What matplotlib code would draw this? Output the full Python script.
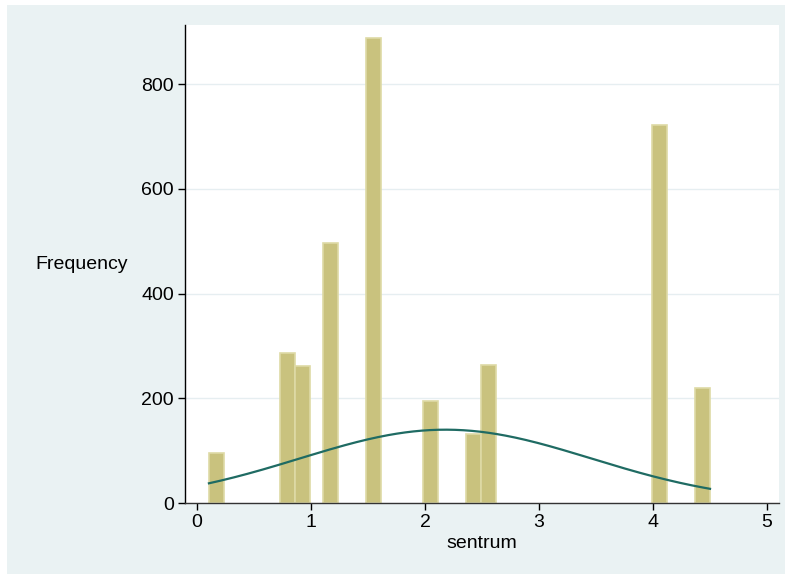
import numpy as np
import matplotlib
matplotlib.use("Agg")
import matplotlib.pyplot as plt
from matplotlib.patches import Rectangle


# histogram bins (centre of bin, count)
bin_centers = [0.172, 0.795, 0.926, 1.175, 1.55, 2.05, 2.425, 2.555, 4.06, 4.43]
counts = [95, 287, 261, 496, 888, 195, 132, 263, 722, 219]
bin_width = 0.132

# overlaid normal curve
curve_mean = 2.18
curve_sd = 1.28
curve_peak = 140
curve_from, curve_to = 0.105, 4.5

x_ticks = [0, 1, 2, 3, 4, 5]
y_ticks = [0, 200, 400, 600, 800]

plt.rcParams['font.family'] = ['Liberation Sans', 'DejaVu Sans']

W, H = 790, 579
fig = plt.figure(figsize=(W / 100, H / 100), dpi=100, facecolor="white")

# light outer region like Stata's graph region
fig.patches.append(Rectangle((7 / W, 5 / H), (785 - 7) / W, (574 - 5) / H,
                             transform=fig.transFigure, facecolor="#eaf2f3",
                             edgecolor="none", zorder=-10))

ax = fig.add_axes([185 / W, 1 - 503 / H, (779 - 185) / W, (503 - 25) / H])
ax.set_facecolor("white")

ax.bar(bin_centers, counts, width=bin_width, color="#c9c27e",
       edgecolor="#dedaa6", linewidth=1.2, zorder=2)

xs = np.linspace(curve_from, curve_to, 300)
ys = curve_peak * np.exp(-0.5 * ((xs - curve_mean) / curve_sd) ** 2)
ax.plot(xs, ys, color="#1f6b63", linewidth=1.6, zorder=3)

ax.set_xlim(-0.105, 5.105)
ax.set_ylim(0, 912.7)
ax.set_xticks(x_ticks)
ax.set_yticks(y_ticks)
ax.grid(axis="y", color="#e6eef1", linewidth=1.0, zorder=0)
ax.set_axisbelow(True)

for s in ["top", "right"]:
    ax.spines[s].set_visible(False)
ax.spines["left"].set_color("black")
ax.spines["bottom"].set_color("#333333")
ax.spines["left"].set_linewidth(1.0)
ax.spines["bottom"].set_linewidth(1.0)

ax.tick_params(axis="both", direction="out", length=5, width=1.0,
               labelsize=14, colors="black", pad=3)

ax.set_xlabel("sentrum", fontsize=14, labelpad=3)
fig.text(35 / W, 1 - 264 / H, "Frequency", fontsize=14,
         ha="left", va="center")

fig.savefig("out.png", dpi=100, facecolor="white")
